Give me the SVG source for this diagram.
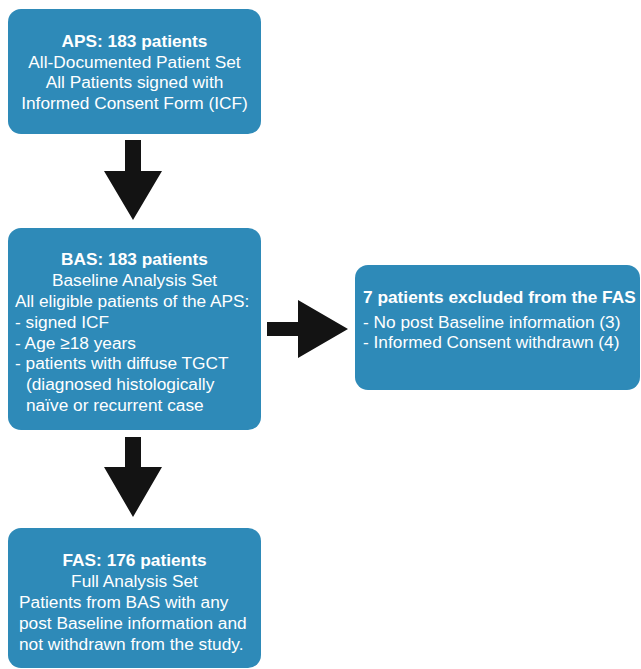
<svg xmlns="http://www.w3.org/2000/svg" width="641" height="669" viewBox="0 0 641 669">
<style>
.box{fill:#2e8ab8;}
.t{font-family:"Liberation Sans",Arial,sans-serif;font-size:17.3px;fill:#ffffff;}
.b{font-weight:bold;}
.c{text-anchor:middle;}
.arr{fill:#131313;}
</style>
<rect width="641" height="669" fill="#ffffff"/>
<g id="connectors">
<polygon class="arr" points="125,140 141,140 141,171 162,171 133,220 104,171 125,171"/>
<polygon class="arr" points="125,437 141,437 141,467 162,467 133,517 104,467 125,467"/>
<polygon class="arr" points="267,322 298,322 298,300 348,329 298,358 298,336 267,336"/>
</g>
<g id="aps">
<rect class="box" x="8" y="9" width="253" height="125" rx="13"/>
<text class="t b c" x="134.5" y="47">APS: 183 patients</text>
<text class="t c" x="134.5" y="68">All-Documented Patient Set</text>
<text class="t c" x="134.5" y="88">All Patients signed with</text>
<text class="t c" x="134.5" y="109">Informed Consent Form (ICF)</text>
</g>
<g id="bas">
<rect class="box" x="8" y="228" width="253" height="202" rx="13"/>
<text class="t b c" x="134.5" y="265">BAS: 183 patients</text>
<text class="t c" x="134.5" y="286">Baseline Analysis Set</text>
<text class="t" x="15" y="307">All eligible patients of the APS:</text>
<text class="t" x="15" y="328">- signed ICF</text>
<text class="t" x="15" y="349">- Age ≥18 years</text>
<text class="t" x="15" y="369">- patients with diffuse TGCT</text>
<text class="t" x="26" y="390">(diagnosed histologically</text>
<text class="t" x="26" y="411">naïve or recurrent case</text>
</g>
<g id="excluded">
<rect class="box" x="355" y="265" width="285" height="125" rx="13"/>
<text class="t b" x="363" y="303">7 patients excluded from the FAS</text>
<text class="t" x="363" y="328">- No post Baseline information (3)</text>
<text class="t" x="363" y="348">- Informed Consent withdrawn (4)</text>
</g>
<g id="fas">
<rect class="box" x="8" y="528" width="253" height="140" rx="13"/>
<text class="t b c" x="134.5" y="566">FAS: 176 patients</text>
<text class="t c" x="134.5" y="587">Full Analysis Set</text>
<text class="t" x="19" y="608">Patients from BAS with any</text>
<text class="t" x="19" y="629">post Baseline information and</text>
<text class="t" x="19" y="650">not withdrawn from the study.</text>
</g>
</svg>
